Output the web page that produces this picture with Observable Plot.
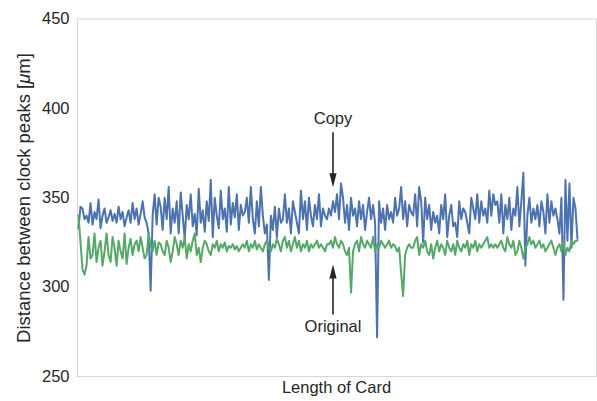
<!DOCTYPE html>
<html>
<head>
<meta charset="utf-8">
<script src="https://cdn.jsdelivr.net/npm/d3@7"></script>
<script src="https://cdn.jsdelivr.net/npm/@observablehq/plot@0.6"></script>
<style>
  body { margin: 0; background: #fff; }
  svg { display: block; }
</style>
</head>
<body>
<div id="chart"></div>
<script>
// ---- data (distance between clock peaks, µm) ----
const copyValues = [
  333,345,344,338,340,336,347,335,342,338,349,333,340,344,336,339,343,337,341,336,345,338,342,334,339,343,336,347,338,344,335,341,348,339,336,330,298,340,352,335,350,
  345,332,350,338,356,330,344,336,348,330,353,340,327,346,338,352,334,341,329,355,336,343,331,348,337,360,328,350,340,333,354,338,344,331,356,335,347,339,352,332,346,340,
  342,350,336,356,338,330,348,334,356,340,330,335,304,340,332,345,328,344,336,338,352,336,344,330,348,342,336,330,354,338,348,332,350,340,334,346,338,352,334,344,340,338,
  344,340,348,342,352,338,358,350,336,346,332,350,340,344,334,348,338,346,332,342,350,338,346,336,272,348,336,344,332,346,338,342,336,350,340,344,356,338,348,334,346,342,
  340,352,334,356,348,325,350,338,346,332,342,336,340,330,346,338,352,328,340,346,334,336,328,348,338,344,342,336,330,350,344,338,352,336,348,340,344,336,354,340,352,346,
  348,336,352,330,346,338,350,332,344,340,356,334,348,364,312,340,350,336,344,338,346,334,348,342,330,352,336,348,340,344,338,330,350,293,360,326,358,322,350,344,327
];
const originalValues = [
  340,325,310,307,312,328,316,318,330,314,322,326,312,320,330,318,314,328,322,312,326,320,316,330,313,322,327,318,324,326,320,328,322,316,318,330,323,320,326,318,325,
  324,320,318,326,322,314,320,328,324,318,326,322,328,316,324,320,326,330,318,322,314,322,326,324,320,318,324,322,326,320,324,322,325,320,323,322,324,321,323,320,322,324,
  322,326,320,324,322,326,321,324,322,320,324,326,322,320,324,322,327,324,320,326,328,322,326,320,324,328,322,326,320,324,322,326,320,324,322,324,326,322,324,322,320,324,
  324,326,322,328,324,322,326,324,320,318,322,297,320,324,326,320,328,324,322,326,324,322,328,320,324,322,326,324,322,324,326,322,324,323,320,322,308,295,318,322,324,322,
  322,326,328,318,324,322,326,320,318,324,316,322,326,320,324,322,318,326,322,320,324,318,326,322,320,324,322,326,318,324,322,326,320,324,322,324,326,328,322,324,322,324,
  322,324,326,322,320,328,324,322,326,318,320,326,322,316,322,324,328,324,326,322,324,326,322,324,320,322,324,326,322,318,322,324,320,326,318,322,320,326,324,326,326
];
const seriesNames = ["Copy", "Original"];
const seriesColors = ["#4C72B0", "#55A868"];
const yTicks = [250, 300, 350, 400, 450];
const yLabel = "Distance between clock peaks [";
const yLabelUnit = "μ";
const yLabelEnd = "m]";
const xLabel = "Length of Card";
// annotations: label, sample index, text value, arrow start value, arrow tip value
const annotLabels = ["Copy", "Original"];
const annotIndex = [127, 127];
const annotTextY = [394.3, 278];
const annotFromY = [386.7, 284.7];
const annotTipY = [355.9, 312.6];

// ---- build ----
const copyData = copyValues.map((v, i) => ({i, v}));
const origData = originalValues.map((v, i) => ({i, v}));
const annots = annotLabels.map((label, k) => ({
  label, i: annotIndex[k], ty: annotTextY[k], y1: annotFromY[k], y2: annotTipY[k], up: annotTipY[k] > annotFromY[k]
}));

const headDown = {draw(ctx) { ctx.moveTo(0, 0); ctx.lineTo(-3.6, -14); ctx.lineTo(3.6, -14); ctx.closePath(); }};
const headUp = {draw(ctx) { ctx.moveTo(0, 0); ctx.lineTo(-3.6, 14); ctx.lineTo(3.6, 14); ctx.closePath(); }};

const W = 597, H = 401;
const mL = 77, mR = 1, mT = 18.5, mB = 25;

const chart = Plot.plot({
  width: W,
  height: H,
  marginLeft: mL,
  marginRight: mR,
  marginTop: mT,
  marginBottom: mB,
  style: {fontFamily: "'Liberation Sans', Arial, sans-serif", color: "#262626", background: "#fff"},
  x: {domain: [-0.5, 258.5], axis: null},
  y: {domain: [250, 450]},
  marks: [
    Plot.frame({stroke: "#d6d6d6", strokeWidth: 1}),
    Plot.axisY({ticks: yTicks, tickSize: 0, tickPadding: 8, fontSize: 16.5, label: null, tickFormat: d => String(d)}),
    Plot.lineY(copyData, {x: "i", y: "v", stroke: seriesColors[0], strokeWidth: 2}),
    Plot.lineY(origData, {x: "i", y: "v", stroke: seriesColors[1], strokeWidth: 2}),
    Plot.link(annots, {x1: "i", x2: "i", y1: "y1", y2: d => d.y2 + (d.up ? -4 : 4), stroke: "#262626", strokeWidth: 1.6}),
    Plot.dot(annots.filter(d => !d.up), {x: "i", y: "y2", symbol: headDown, fill: "#262626", stroke: "none", r: 5}),
    Plot.dot(annots.filter(d => d.up), {x: "i", y: "y2", symbol: headUp, fill: "#262626", stroke: "none", r: 5}),
    Plot.text(annots, {x: "i", y: "ty", text: "label", fontSize: 16.5, fill: "#262626", textAnchor: "middle", lineAnchor: "middle"})
  ]
});

const svg = d3.select(chart);
const yl = svg.append("text")
  .attr("transform", `translate(29.5,198) rotate(-90)`)
  .attr("text-anchor", "middle")
  .attr("fill", "#262626")
  .style("font-size", "18.5px");
yl.append("tspan").text(yLabel);
yl.append("tspan").style("font-style", "italic").text(yLabelUnit);
yl.append("tspan").text(yLabelEnd);

svg.append("text")
  .attr("x", (mL + W - mR) / 2)
  .attr("y", 393)
  .attr("text-anchor", "middle")
  .attr("fill", "#262626")
  .style("font-size", "16.5px")
  .text(xLabel);

document.getElementById("chart").appendChild(chart);
</script>
</body>
</html>
